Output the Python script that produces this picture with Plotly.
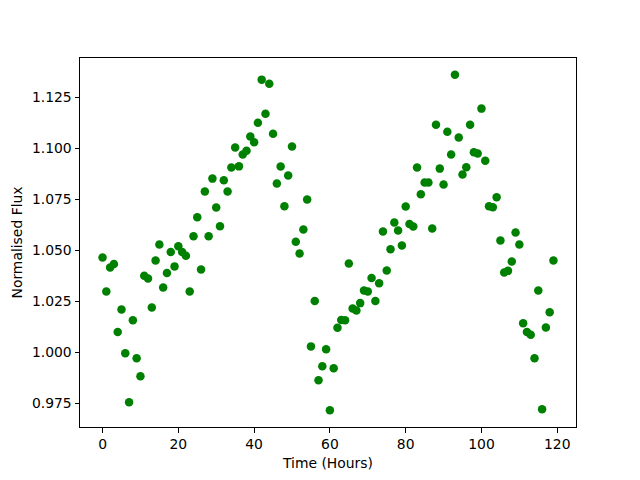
import plotly.graph_objects as go

time_hours = list(range(120))
flux = [
    1.0465, 1.0298, 1.0416, 1.0433, 1.0099, 1.0210, 0.9995, 0.9755, 1.0157, 0.9971,
    0.9883, 1.0375, 1.0362, 1.0220, 1.0450, 1.0528, 1.0318, 1.0388, 1.0492, 1.0421,
    1.0520, 1.0492, 1.0473, 1.0298, 1.0569, 1.0662, 1.0406, 1.0788, 1.0569, 1.0851,
    1.0709, 1.0618, 1.0843, 1.0788, 1.0905, 1.1003, 1.0911, 1.0969, 1.0988, 1.1057,
    1.1029, 1.1125, 1.1336, 1.1169, 1.1316, 1.1071, 1.0827, 1.0910, 1.0716, 1.0866,
    1.1008, 1.0542, 1.0484, 1.0602, 1.0749, 1.0029, 1.0251, 0.9863, 0.9932, 1.0015,
    0.9716, 0.9922, 1.0120, 1.0158, 1.0157, 1.0435, 1.0215, 1.0205, 1.0241, 1.0303,
    1.0298, 1.0364, 1.0251, 1.0338, 1.0592, 1.0401, 1.0505, 1.0636, 1.0597, 1.0523,
    1.0714, 1.0629, 1.0616, 1.0905, 1.0774, 1.0832, 1.0832, 1.0607, 1.1115, 1.0900,
    1.0822, 1.1081, 1.0969, 1.1360, 1.1052, 1.0871, 1.0907, 1.1115, 1.0980, 1.0974,
    1.1194, 1.0939, 1.0716, 1.0711, 1.0760, 1.0548, 1.0391, 1.0399, 1.0445, 1.0587,
    1.0528, 1.0142, 1.0099, 1.0086, 0.9971, 1.0303, 0.9721, 1.0122, 1.0196, 1.0450,
]
x_ticks = [0, 20, 40, 60, 80, 100, 120]
y_ticks = [0.975, 1.000, 1.025, 1.050, 1.075, 1.100, 1.125]

fig = go.Figure(go.Scatter(
    x=time_hours, y=flux, mode="markers",
    marker=dict(color="#008000", size=8.5, line=dict(width=0)),
))

font = dict(family="DejaVu Sans", size=13.9, color="black")
axis_common = dict(
    showgrid=False, zeroline=False, showline=True, linecolor="black", linewidth=1,
    mirror=True, ticks="outside", ticklen=4.5, tickwidth=1, tickcolor="black",
    tickfont=font, automargin=False,
)
# the page body has an 8px default margin, so the figure is offset by 8px
fig.update_layout(
    width=632, height=472,
    margin=dict(l=72, r=64, t=50, b=53, pad=0),
    paper_bgcolor="white", plot_bgcolor="white",
    showlegend=False,
    xaxis=dict(range=[-5.95, 124.95], tickvals=x_ticks, ticktext=[str(v) for v in x_ticks],
               title=dict(text="Time (Hours)", font=font, standoff=7), **axis_common),
    yaxis=dict(range=[0.9634, 1.1442], tickvals=y_ticks, ticktext=[f"{v:.3f}" for v in y_ticks],
               title=dict(text="Normalised Flux", font=font, standoff=6), **axis_common),
)
fig.write_html("out.html")
